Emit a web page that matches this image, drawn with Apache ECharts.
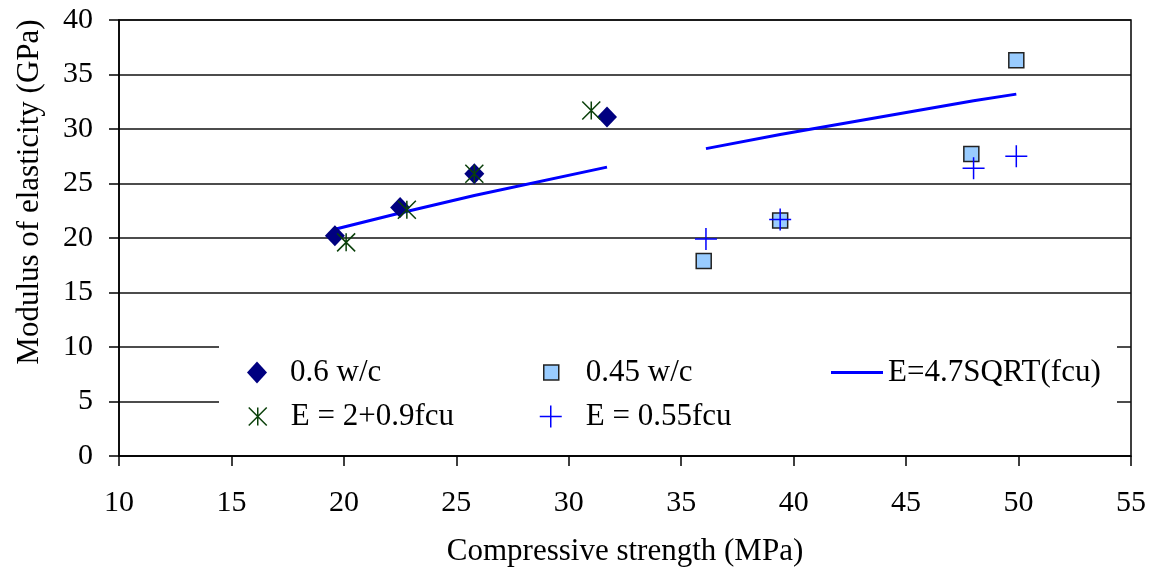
<!DOCTYPE html>
<html><head><meta charset="utf-8">
<script src="https://cdn.jsdelivr.net/npm/echarts@6/dist/echarts.min.js"></script>
<style>html,body{margin:0;padding:0;background:#fff}#c{width:1151px;height:572px}</style>
</head><body><div id="c"></div>
<script>
// data
const wc06 = [[19.6,20.2],[22.5,22.8],[25.8,25.9],[31.7,31.1]];
const wc045 = [[36.0,17.9],[39.4,21.6],[47.9,27.7],[49.9,36.3]];
const eLinear = [[20.1,19.6],[22.8,22.6],[25.8,25.9],[31.0,31.7]];
const e055 = [[36.1,19.9],[39.4,21.7],[48.0,26.4],[49.9,27.5]];
const sqrtLow = [[19.6,20.8],[22.5,22.3],[25.8,23.9],[31.7,26.5]];
const sqrtHigh = [[36.1,28.2],[39.4,29.5],[48.0,32.6],[49.9,33.2]];
const xTicks = {min:10, max:55, interval:5};
const yTicks = {min:0, max:40, interval:5};

const FONT = '"Liberation Serif","Times New Roman",serif';
const starPath = 'path://M0,0 L10,10 M10,0 L0,10 M5,0 L5,10';
const plusPath = 'path://M5,0 L5,10 M0,5 L10,5';
const names = ['0.6 w/c','0.45 w/c','E=4.7SQRT(fcu)','E = 2+0.9fcu','E = 0.55fcu'];
const STAR_C = '#0a400a', PLUS_C = '#0000ff', DIA_C = '#000080';

function leg(item, left, top, w, h, pad) {
  return {
    data:[item], left:left, top:top, orient:'horizontal', selectedMode:false, padding:0,
    itemWidth:w, itemHeight:h, z:10,
    textStyle:{fontFamily:FONT, fontSize:31, lineHeight:30, color:'#000', padding:[0,0,0,pad]}
  };
}

const chart = echarts.init(document.getElementById('c'));
chart.setOption({
  animation:false,
  backgroundColor:'#fff',
  grid:{left:119, right:20, top:20, bottom:116, show:true, borderColor:'#000', borderWidth:1.5, backgroundColor:'transparent'},
  xAxis:{type:'value', min:xTicks.min, max:xTicks.max, interval:xTicks.interval,
    name:'Compressive strength (MPa)', nameLocation:'middle', nameGap:80,
    nameTextStyle:{fontFamily:FONT, fontSize:31, color:'#000'},
    axisLine:{lineStyle:{color:'#000', width:1.5}},
    axisTick:{show:true, length:10, lineStyle:{color:'#000', width:1.5}},
    axisLabel:{fontFamily:FONT, fontSize:30, color:'#000', margin:32},
    splitLine:{show:false}},
  yAxis:{type:'value', min:yTicks.min, max:yTicks.max, interval:yTicks.interval,
    name:'Modulus of elasticity (GPa)', nameLocation:'middle', nameGap:74,
    nameTextStyle:{fontFamily:FONT, fontSize:31, color:'#000', padding:[0,0,0,92]},
    axisLine:{show:true, lineStyle:{color:'#000', width:1.5}},
    axisTick:{show:true, length:10, lineStyle:{color:'#000', width:1.5}},
    axisLabel:{fontFamily:FONT, fontSize:30, color:'#000', margin:26},
    splitLine:{show:true, lineStyle:{color:'#111', width:1.5}}},
  graphic:[{type:'rect', shape:{x:219, y:340, width:898, height:100}, style:{fill:'#fff'}, z:5}],
  legend:[
    leg({name:names[0], icon:'diamond', itemStyle:{color:DIA_C, opacity:1}}, 247, 357, 20, 22, 18),
    leg({name:names[1], icon:'rect', itemStyle:{color:'#99ccff', borderColor:'#222', borderWidth:1.5, opacity:1}}, 543, 357, 15, 15, 22),
    leg({name:names[2], icon:'rect', itemStyle:{color:'#0000ff'}}, 831, 357, 52, 3, 0),
    leg({name:names[3], icon:starPath, itemStyle:{color:'transparent', borderColor:STAR_C, borderWidth:1.5, opacity:1}}, 248, 401, 18, 18, 19),
    leg({name:names[4], icon:plusPath, itemStyle:{color:'transparent', borderColor:PLUS_C, borderWidth:1.5, opacity:1}}, 539, 401, 22, 22, 19)
  ],
  series:[
    {name:names[2], type:'line', data:sqrtLow, symbol:'none', lineStyle:{color:'#0000ff', width:3}, itemStyle:{color:'#0000ff'}, z:2},
    {name:names[2], type:'line', data:sqrtHigh, symbol:'none', lineStyle:{color:'#0000ff', width:3}, itemStyle:{color:'#0000ff'}, z:2},
    {name:names[0], type:'scatter', data:wc06, symbol:'diamond', symbolSize:[20,21], itemStyle:{color:DIA_C, opacity:1}, z:3},
    {name:names[1], type:'scatter', data:wc045, symbol:'rect', symbolSize:15, itemStyle:{color:'#99ccff', borderColor:'#222', borderWidth:1.5, opacity:1}, z:3},
    {name:names[3], type:'scatter', data:eLinear, symbol:starPath, symbolSize:18, itemStyle:{color:'transparent', borderColor:STAR_C, borderWidth:1.5, opacity:1}, z:4},
    {name:names[4], type:'scatter', data:e055, symbol:plusPath, symbolSize:22, itemStyle:{color:'transparent', borderColor:PLUS_C, borderWidth:1.5, opacity:1}, z:4}
  ]
});
</script></body></html>
